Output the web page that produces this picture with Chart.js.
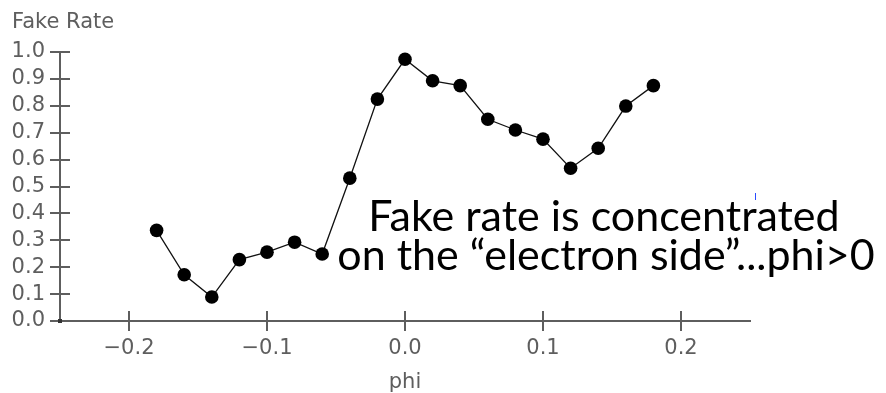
<!DOCTYPE html>
<html>
<head>
<meta charset="utf-8">
<script src="https://cdn.jsdelivr.net/npm/chart.js@4.4.1/dist/chart.umd.min.js"></script>
<style>
  html, body { margin: 0; padding: 0; background: #ffffff; }
  #wrap { width: 886px; height: 393px; position: relative; }
</style>
</head>
<body>
<div id="wrap"><canvas id="chart" width="886" height="393"></canvas></div>
<script>
// phi bins and the measured fake rate in each bin
const phiValues = [-0.18, -0.16, -0.14, -0.12, -0.10, -0.08, -0.06, -0.04, -0.02, 0.00,
                   0.02, 0.04, 0.06, 0.08, 0.10, 0.12, 0.14, 0.16, 0.18];
const fakeRate = [0.337, 0.172, 0.089, 0.228, 0.256, 0.293, 0.249, 0.531, 0.825, 0.973,
                  0.893, 0.875, 0.750, 0.710, 0.676, 0.568, 0.642, 0.799, 0.875];

// axis ranges and tick positions
const xRange = [-0.25, 0.25];
const yRange = [0.0, 1.0];
const xTicks = [-0.2, -0.1, 0.0, 0.1, 0.2];
const yTicks = [0.0, 0.1, 0.2, 0.3, 0.4, 0.5, 0.6, 0.7, 0.8, 0.9, 1.0];
const xTitle = 'phi';
const yTitle = 'Fake Rate';
const noteLines = ['Fake rate is concentrated', 'on the \u201celectron side\u201d...phi>0'];

const AXIS_COLOR = '#5e5e5e';
const AXIS_FONT = { family: 'DejaVu Sans', size: 21, weight: 'normal' };
const TICK_IN = 10;

const fmt = v => {
  const r = Math.abs(v) < 1e-9 ? 0 : v;
  const s = Math.abs(r).toFixed(1);
  return r < 0 ? '\u2212' + s : s;
};

// tick marks that cross into the plot, as in classic plotting packages
const innerTicks = {
  id: 'innerTicks',
  beforeDatasetsDraw(chart) {
    const { ctx, scales: { x, y } } = chart;
    ctx.save();
    ctx.strokeStyle = AXIS_COLOR;
    ctx.lineWidth = 2;
    y.ticks.forEach(t => {
      const py = Math.round(y.getPixelForValue(t.value));
      ctx.beginPath();
      ctx.moveTo(x.left, py);
      ctx.lineTo(x.left + TICK_IN, py);
      ctx.stroke();
    });
    x.ticks.forEach(t => {
      const px = Math.round(x.getPixelForValue(t.value));
      ctx.beginPath();
      ctx.moveTo(px, y.bottom);
      ctx.lineTo(px, y.bottom - TICK_IN);
      ctx.stroke();
    });
    // small square marker at the origin corner
    ctx.fillStyle = '#333333';
    ctx.fillRect(x.left - 2, y.bottom - 2, 4, 4);
    ctx.restore();
  }
};

// two-line note written over the plot
const note = {
  id: 'note',
  afterDraw(chart) {
    const { ctx } = chart;
    ctx.save();
    ctx.fillStyle = '#000000';
    ctx.font = '43px Lato';
    ctx.textAlign = 'center';
    ctx.textBaseline = 'alphabetic';
    ctx.fillText(noteLines[0], 604, 231);
    ctx.fillText(noteLines[1], 606, 270);
    // stray text cursor left in the note
    ctx.fillStyle = '#2a4bff';
    ctx.fillRect(755, 193, 1, 7);
    ctx.restore();
  }
};

new Chart(document.getElementById('chart'), {
  type: 'scatter',
  data: {
    datasets: [{
      data: phiValues.map((p, i) => ({ x: p, y: fakeRate[i] })),
      showLine: true,
      borderColor: '#111111',
      borderWidth: 1.3,
      backgroundColor: '#000000',
      pointBackgroundColor: '#000000',
      pointBorderWidth: 0,
      pointRadius: 6.8,
      pointHoverRadius: 6.8,
      clip: false
    }]
  },
  options: {
    responsive: false,
    animation: false,
    events: [],
    layout: { padding: { left: 12, right: 136, top: 0, bottom: 0 } },
    plugins: {
      legend: { display: false },
      tooltip: { enabled: false },
      title: {
        display: true,
        text: yTitle,
        align: 'start',
        color: AXIS_COLOR,
        font: AXIS_FONT,
        padding: { top: 10, bottom: 16.8 }
      }
    },
    scales: {
      x: {
        type: 'linear',
        min: xRange[0],
        max: xRange[1],
        afterBuildTicks: s => { s.ticks = xTicks.map(v => ({ value: v })); },
        afterFit: s => { s.height = 72; },
        grid: {
          drawOnChartArea: false,
          drawTicks: true,
          tickLength: 10,
          color: AXIS_COLOR,
          lineWidth: 2
        },
        border: { display: true, color: AXIS_COLOR, width: 2 },
        ticks: {
          autoSkip: false,
          color: AXIS_COLOR,
          font: AXIS_FONT,
          padding: 5,
          maxRotation: 0,
          callback: v => fmt(v)
        },
        title: {
          display: true,
          text: xTitle,
          color: AXIS_COLOR,
          font: AXIS_FONT,
          padding: { top: 2, bottom: -2 }
        }
      },
      y: {
        type: 'linear',
        min: yRange[0],
        max: yRange[1],
        afterBuildTicks: s => { s.ticks = yTicks.map(v => ({ value: v })); },
        afterFit: s => { s.width = 48; },
        grid: {
          drawOnChartArea: false,
          drawTicks: true,
          tickLength: 10,
          color: AXIS_COLOR,
          lineWidth: 2
        },
        border: { display: true, color: AXIS_COLOR, width: 2 },
        ticks: {
          autoSkip: false,
          color: AXIS_COLOR,
          font: AXIS_FONT,
          padding: 5,
          callback: v => fmt(v)
        }
      }
    }
  },
  plugins: [innerTicks, note]
});
</script>
</body>
</html>
